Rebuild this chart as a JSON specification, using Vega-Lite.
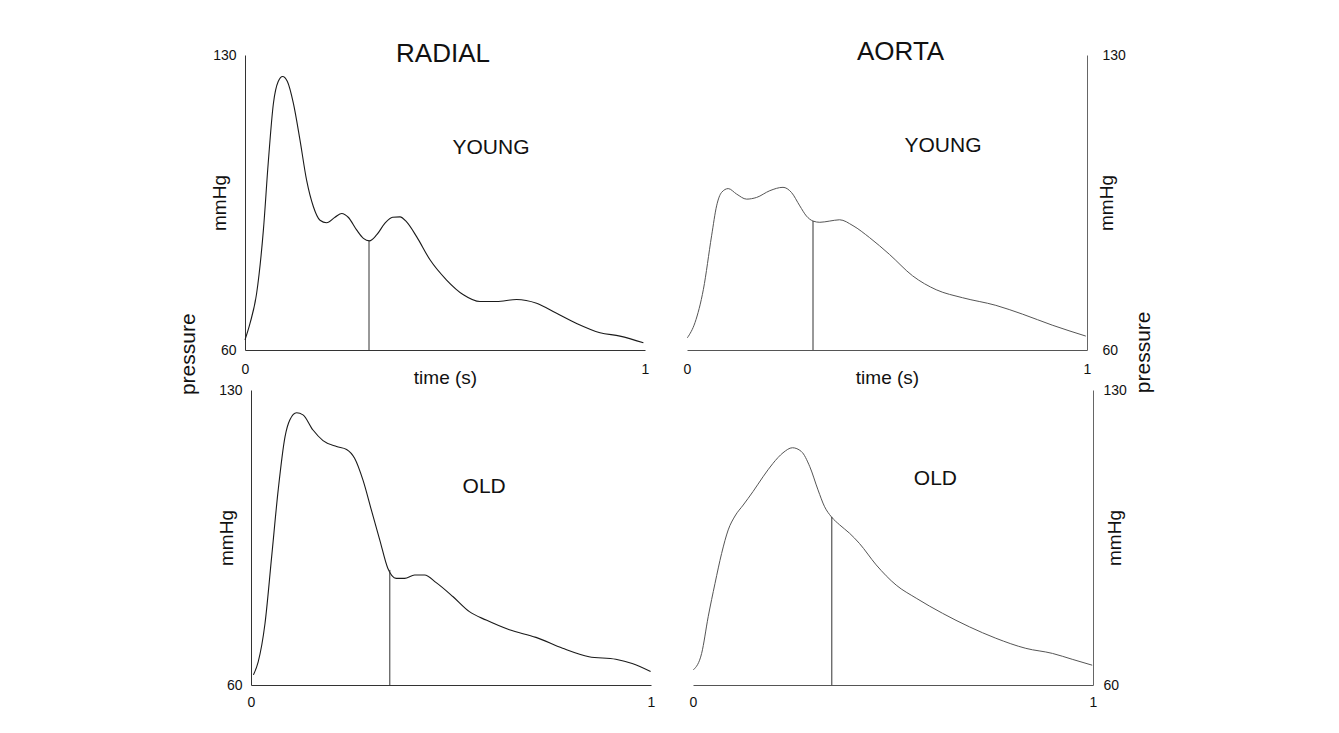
{
  "$schema": "https://vega.github.io/schema/vega-lite/v6.json",
  "padding": {"left": 178, "top": 39, "right": 5, "bottom": 5},
  "background": "white",
  "columns": 2,
  "spacing": {"row": 40, "column": 42},
  "bounds": "flush",
  "align": "all",
  "datasets": {
    "radial_young": [
      {"t":0,"p":62.4},{"t":0.0125,"p":66.3},{"t":0.029,"p":73.4},{"t":0.046,"p":88.5},{"t":0.058,"p":104.3},{"t":0.071,"p":118.5},{"t":0.083,"p":123.7},{"t":0.094,"p":124.9},{"t":0.106,"p":123.7},{"t":0.121,"p":118.5},{"t":0.1375,"p":109.8},{"t":0.154,"p":100.3},{"t":0.171,"p":94.0},{"t":0.1875,"p":90.8},{"t":0.204,"p":90.2},{"t":0.225,"p":91.5},{"t":0.242,"p":92.4},{"t":0.258,"p":91.5},{"t":0.279,"p":88.5},{"t":0.296,"p":86.5},{"t":0.311,"p":85.9},{"t":0.329,"p":87.3},{"t":0.35,"p":90.1},{"t":0.369,"p":91.5},{"t":0.3875,"p":91.6},{"t":0.404,"p":90.4},{"t":0.429,"p":86.9},{"t":0.4625,"p":81.4},{"t":0.504,"p":76.6},{"t":0.546,"p":73.1},{"t":0.5875,"p":71.5},{"t":0.629,"p":71.5},{"t":0.679,"p":72.0},{"t":0.729,"p":71.1},{"t":0.779,"p":68.7},{"t":0.829,"p":66.3},{"t":0.8875,"p":64.1},{"t":0.9375,"p":63.3},{"t":0.996,"p":61.7}
    ],
    "aorta_young": [
      {"t":0.001,"p":62.9},{"t":0.02,"p":66.5},{"t":0.041,"p":74.4},{"t":0.0615,"p":87.1},{"t":0.074,"p":94.2},{"t":0.0865,"p":97.4},{"t":0.103,"p":98.3},{"t":0.124,"p":97.0},{"t":0.149,"p":95.8},{"t":0.174,"p":96.2},{"t":0.207,"p":97.8},{"t":0.24,"p":98.6},{"t":0.261,"p":97.4},{"t":0.282,"p":94.2},{"t":0.2985,"p":91.8},{"t":0.315,"p":90.6},{"t":0.332,"p":90.3},{"t":0.357,"p":90.6},{"t":0.3815,"p":90.9},{"t":0.415,"p":89.5},{"t":0.456,"p":86.7},{"t":0.506,"p":82.7},{"t":0.564,"p":77.6},{"t":0.623,"p":74.3},{"t":0.689,"p":72.4},{"t":0.772,"p":70.6},{"t":0.839,"p":68.5},{"t":0.913,"p":65.9},{"t":0.997,"p":63.3}
    ],
    "radial_old": [
      {"t":0.006,"p":62.4},{"t":0.018,"p":65.5},{"t":0.035,"p":74.6},{"t":0.0516,"p":90.4},{"t":0.068,"p":106.3},{"t":0.085,"p":118.9},{"t":0.097,"p":122.9},{"t":0.114,"p":124.6},{"t":0.13,"p":124.1},{"t":0.155,"p":120.5},{"t":0.18,"p":118.0},{"t":0.214,"p":116.6},{"t":0.239,"p":115.9},{"t":0.259,"p":113.8},{"t":0.28,"p":108.6},{"t":0.301,"p":101.5},{"t":0.322,"p":94.4},{"t":0.342,"p":87.7},{"t":0.363,"p":85.3},{"t":0.384,"p":85.3},{"t":0.409,"p":86.1},{"t":0.434,"p":86.1},{"t":0.463,"p":84.3},{"t":0.5046,"p":81.0},{"t":0.546,"p":77.4},{"t":0.588,"p":75.4},{"t":0.646,"p":73.1},{"t":0.7125,"p":71.3},{"t":0.779,"p":68.7},{"t":0.845,"p":66.7},{"t":0.912,"p":66.1},{"t":0.953,"p":65.1},{"t":0.999,"p":63.2}
    ],
    "aorta_old": [
      {"t":0.001,"p":63.6},{"t":0.0216,"p":67.5},{"t":0.038,"p":76.2},{"t":0.055,"p":84.1},{"t":0.0715,"p":91.2},{"t":0.088,"p":96.8},{"t":0.105,"p":100.1},{"t":0.1255,"p":102.7},{"t":0.15,"p":105.9},{"t":0.175,"p":109.4},{"t":0.2,"p":112.6},{"t":0.225,"p":115.1},{"t":0.2486,"p":116.3},{"t":0.271,"p":115.4},{"t":0.292,"p":111.8},{"t":0.3125,"p":106.3},{"t":0.329,"p":102.3},{"t":0.346,"p":99.9},{"t":0.3666,"p":98.0},{"t":0.3915,"p":96.0},{"t":0.416,"p":93.6},{"t":0.458,"p":88.5},{"t":0.508,"p":83.7},{"t":0.558,"p":80.6},{"t":0.624,"p":77.0},{"t":0.691,"p":73.8},{"t":0.757,"p":71.1},{"t":0.832,"p":68.7},{"t":0.8985,"p":67.5},{"t":0.948,"p":66.1},{"t":0.998,"p":64.7}
    ]
  },
  "concat": [
    {
      "width": 400, "height": 295,
      "layer": [
        {"data": {"name": "radial_young"},
         "mark": {"type": "line", "interpolate": "monotone", "stroke": "#1a1a1a", "strokeWidth": 1.1},
         "encoding": {
           "x": {"field": "t", "type": "quantitative", "scale": {"domain": [0, 1], "nice": false, "zero": false},
                 "axis": {"values": [0, 1], "format": "d", "title": "time (s)", "labelPadding": 12, "titleX": 200, "titleY": 33, "titleBaseline": "alphabetic", "titleAlign": "center"}},
           "y": {"field": "p", "type": "quantitative", "scale": {"domain": [60, 130], "nice": false, "zero": false},
                 "axis": {"orient": "left", "values": [60, 130], "format": "d", "title": "mmHg", "labelPadding": 9, "titleAngle": 270, "titleX": -20, "titleY": 147.5, "titleBaseline": "alphabetic", "titleAlign": "center"}}
         }},
        {"data": {"values": [{"t": 0.31, "p": 60, "p2": 86.0}]},
         "mark": {"type": "rule", "stroke": "#333", "strokeWidth": 1},
         "encoding": {"x": {"field": "t", "type": "quantitative"}, "y": {"field": "p", "type": "quantitative"}, "y2": {"field": "p2"}}},
        {"data": {"values": [{"label": "RADIAL", "t": 0.495, "p": 128.3}]},
         "mark": {"type": "text", "fontSize": 26, "baseline": "alphabetic", "align": "center"},
         "encoding": {"x": {"field": "t", "type": "quantitative"}, "y": {"field": "p", "type": "quantitative"}, "text": {"field": "label"}}},
        {"data": {"values": [{"label": "YOUNG", "t": 0.615, "p": 106.5}]},
         "mark": {"type": "text", "fontSize": 21, "baseline": "alphabetic", "align": "center"},
         "encoding": {"x": {"field": "t", "type": "quantitative"}, "y": {"field": "p", "type": "quantitative"}, "text": {"field": "label"}}},
        {"data": {"values": [{"label": "pressure", "t": -0.14, "p": 59.0}]},
         "mark": {"type": "text", "fontSize": 21, "baseline": "middle", "align": "center", "angle": 270},
         "encoding": {"x": {"field": "t", "type": "quantitative"}, "y": {"field": "p", "type": "quantitative"}, "text": {"field": "label"}}}
      ]
    },
    {
      "width": 400, "height": 295,
      "layer": [
        {"data": {"name": "aorta_young"},
         "mark": {"type": "line", "interpolate": "monotone", "stroke": "#555", "strokeWidth": 1},
         "encoding": {
           "x": {"field": "t", "type": "quantitative", "scale": {"domain": [0, 1], "nice": false, "zero": false},
                 "axis": {"values": [0, 1], "format": "d", "title": "time (s)", "labelPadding": 12, "titleX": 200, "titleY": 33, "titleBaseline": "alphabetic", "titleAlign": "center", "domainColor": "#555"}},
           "y": {"field": "p", "type": "quantitative", "scale": {"domain": [60, 130], "nice": false, "zero": false},
                 "axis": {"orient": "right", "values": [60, 130], "format": "d", "title": "mmHg", "labelPadding": 15, "titleAngle": 270, "titleX": 25, "titleY": 147.5, "titleBaseline": "alphabetic", "titleAlign": "center", "domainColor": "#666"}}
         }},
        {"data": {"values": [{"t": 0.315, "p": 60, "p2": 90.6}]},
         "mark": {"type": "rule", "stroke": "#333", "strokeWidth": 1},
         "encoding": {"x": {"field": "t", "type": "quantitative"}, "y": {"field": "p", "type": "quantitative"}, "y2": {"field": "p2"}}},
        {"data": {"values": [{"label": "AORTA", "t": 0.534, "p": 128.7}]},
         "mark": {"type": "text", "fontSize": 26, "baseline": "alphabetic", "align": "center"},
         "encoding": {"x": {"field": "t", "type": "quantitative"}, "y": {"field": "p", "type": "quantitative"}, "text": {"field": "label"}}},
        {"data": {"values": [{"label": "YOUNG", "t": 0.64, "p": 107.0}]},
         "mark": {"type": "text", "fontSize": 21, "baseline": "alphabetic", "align": "center"},
         "encoding": {"x": {"field": "t", "type": "quantitative"}, "y": {"field": "p", "type": "quantitative"}, "text": {"field": "label"}}},
        {"data": {"values": [{"label": "pressure", "t": 1.142, "p": 59.45}]},
         "mark": {"type": "text", "fontSize": 21, "baseline": "middle", "align": "center", "angle": 270},
         "encoding": {"x": {"field": "t", "type": "quantitative"}, "y": {"field": "p", "type": "quantitative"}, "text": {"field": "label"}}}
      ]
    },
    {
      "width": 400, "height": 295,
      "layer": [
        {"data": {"name": "radial_old"},
         "mark": {"type": "line", "interpolate": "monotone", "stroke": "#1a1a1a", "strokeWidth": 1.1},
         "encoding": {
           "x": {"field": "t", "type": "quantitative", "scale": {"domain": [0, 1], "nice": false, "zero": false, "range": [6, 406]},
                 "axis": {"values": [0, 1], "format": "d", "title": null, "labelPadding": 10}},
           "y": {"field": "p", "type": "quantitative", "scale": {"domain": [60, 130], "nice": false, "zero": false},
                 "axis": {"orient": "left", "values": [60, 130], "format": "d", "title": "mmHg", "offset": -6, "labelPadding": 9, "titleAngle": 270, "titleX": -19, "titleY": 147.5, "titleBaseline": "alphabetic", "titleAlign": "center"}}
         }},
        {"data": {"values": [{"t": 0.347, "p": 60, "p2": 87.3}]},
         "mark": {"type": "rule", "stroke": "#333", "strokeWidth": 1},
         "encoding": {"x": {"field": "t", "type": "quantitative"}, "y": {"field": "p", "type": "quantitative"}, "y2": {"field": "p2"}}},
        {"data": {"values": [{"label": "OLD", "t": 0.583, "p": 105.6}]},
         "mark": {"type": "text", "fontSize": 21, "baseline": "alphabetic", "align": "center"},
         "encoding": {"x": {"field": "t", "type": "quantitative"}, "y": {"field": "p", "type": "quantitative"}, "text": {"field": "label"}}}
      ]
    },
    {
      "width": 400, "height": 295,
      "layer": [
        {"data": {"name": "aorta_old"},
         "mark": {"type": "line", "interpolate": "monotone", "stroke": "#555", "strokeWidth": 1},
         "encoding": {
           "x": {"field": "t", "type": "quantitative", "scale": {"domain": [0, 1], "nice": false, "zero": false, "range": [6, 406]},
                 "axis": {"values": [0, 1], "format": "d", "title": null, "labelPadding": 10, "domainColor": "#555"}},
           "y": {"field": "p", "type": "quantitative", "scale": {"domain": [60, 130], "nice": false, "zero": false},
                 "axis": {"orient": "right", "values": [60, 130], "format": "d", "title": "mmHg", "offset": 6, "labelPadding": 10, "titleAngle": 270, "titleX": 27, "titleY": 147.5, "titleBaseline": "alphabetic", "titleAlign": "center", "domainColor": "#666"}}
         }},
        {"data": {"values": [{"t": 0.347, "p": 60, "p2": 99.9}]},
         "mark": {"type": "rule", "stroke": "#333", "strokeWidth": 1},
         "encoding": {"x": {"field": "t", "type": "quantitative"}, "y": {"field": "p", "type": "quantitative"}, "y2": {"field": "p2"}}},
        {"data": {"values": [{"label": "OLD", "t": 0.606, "p": 107.5}]},
         "mark": {"type": "text", "fontSize": 21, "baseline": "alphabetic", "align": "center"},
         "encoding": {"x": {"field": "t", "type": "quantitative"}, "y": {"field": "p", "type": "quantitative"}, "text": {"field": "label"}}}
      ]
    }
  ],
  "config": {
    "view": {"stroke": null},
    "font": "Liberation Sans",
    "text": {"font": "Liberation Sans", "color": "#111"},
    "axis": {
      "ticks": false, "grid": false, "labelFlush": false,
      "labelFont": "Liberation Sans", "labelFontSize": 14, "labelColor": "#111",
      "domainColor": "#333", "domainWidth": 1,
      "titleFont": "Liberation Sans", "titleFontSize": 19, "titleFontWeight": "normal", "titleColor": "#111"
    }
  }
}
